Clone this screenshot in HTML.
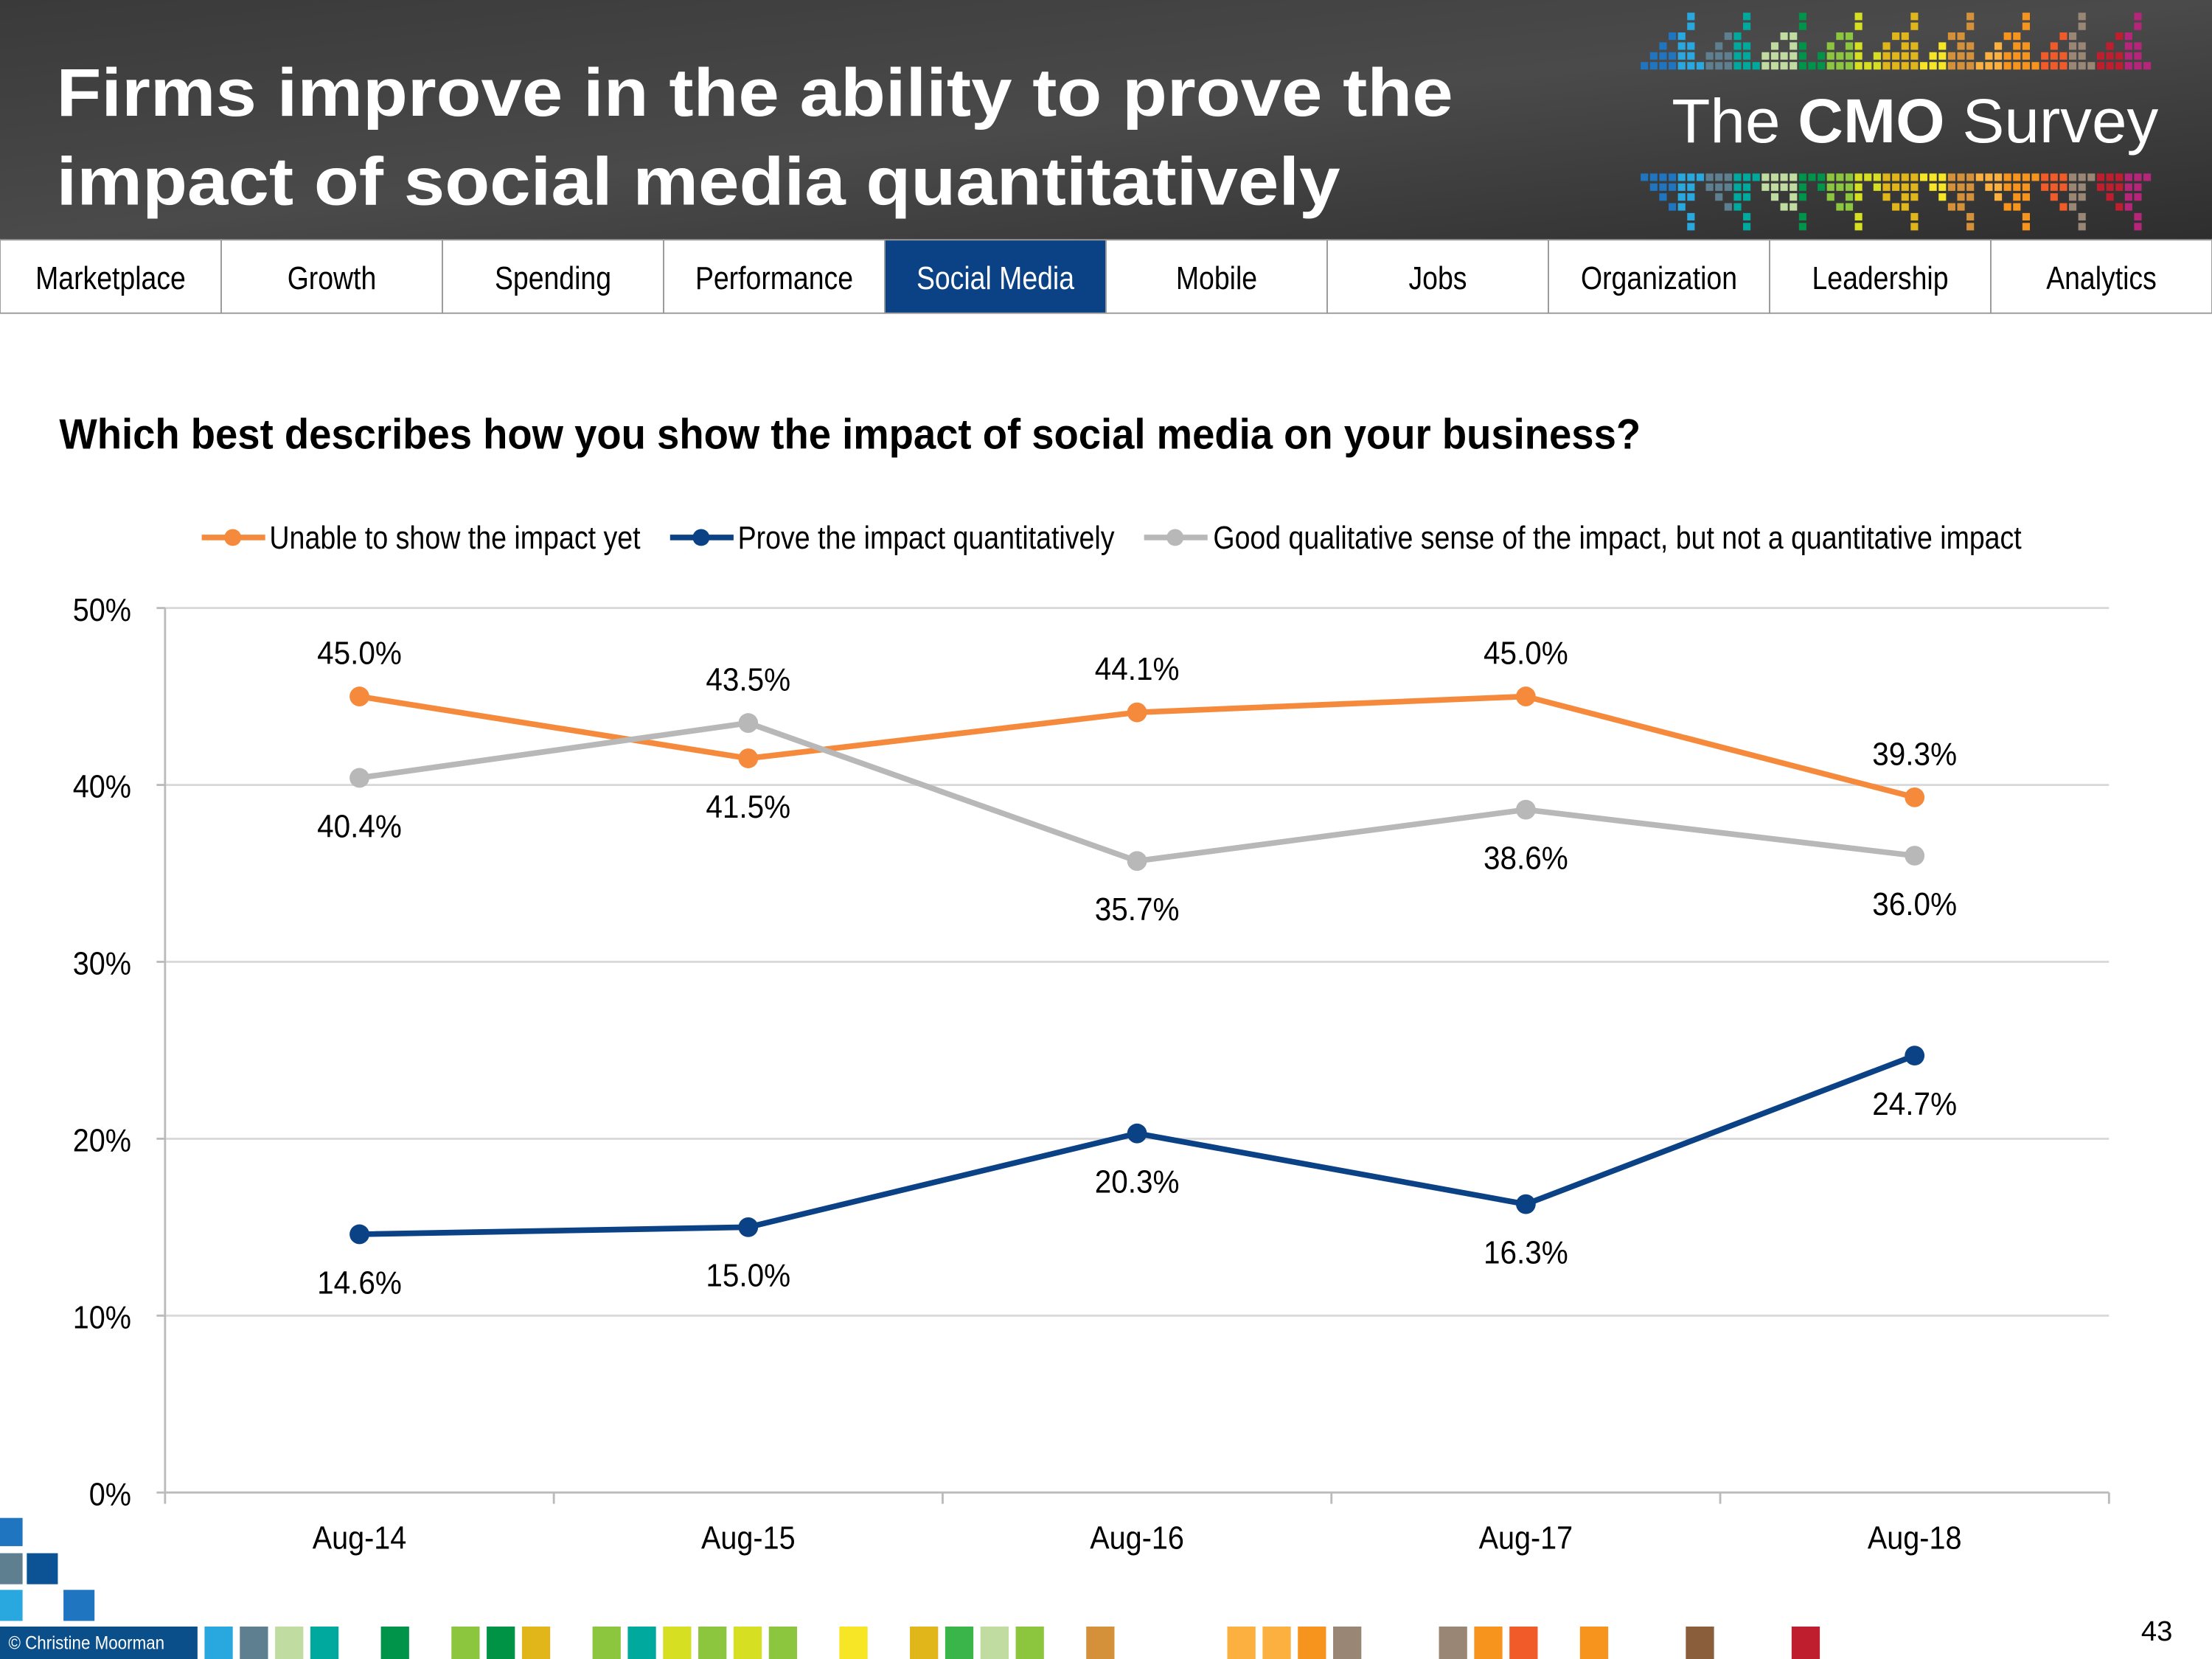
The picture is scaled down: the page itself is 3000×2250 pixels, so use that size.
<!DOCTYPE html>
<html><head><meta charset="utf-8"><style>
html,body{margin:0;padding:0;background:#fff;}
svg{display:block;}
</style></head><body>
<svg id="s" width="3000" height="2250" viewBox="0 0 1568 1176" preserveAspectRatio="none" xmlns="http://www.w3.org/2000/svg" font-family="Liberation Sans, sans-serif">
<defs><linearGradient id="hg" x1="0" y1="0" x2="1" y2="1"><stop offset="0" stop-color="#3a3a3a"/><stop offset="0.5" stop-color="#4a4a4a"/><stop offset="1" stop-color="#2e2e2e"/></linearGradient></defs>
<g>
<rect x="0" y="0" width="1568" height="170" fill="url(#hg)"/>
<text x="40" y="82" fill="#fff" font-size="48" font-weight="bold" textLength="990" lengthAdjust="spacingAndGlyphs">Firms improve in the ability to prove the</text>
<text x="40" y="145" fill="#fff" font-size="48" font-weight="bold" textLength="910" lengthAdjust="spacingAndGlyphs">impact of social media quantitatively</text>
<g id="logo"></g>
<text x="1185" y="101" fill="#fff" font-size="44" font-weight="300" textLength="345" lengthAdjust="spacingAndGlyphs">The <tspan font-weight="bold">CMO</tspan> Survey</text>
</g>
<g id="nav"></g>
<text x="42" y="318" font-size="30" font-weight="bold" fill="#000" textLength="1121" lengthAdjust="spacingAndGlyphs">Which best describes how you show the impact of social media on your business?</text>
<g id="legend"></g>
<g id="chart"></g>
<g id="foot"></g>
<text x="1540" y="1163" text-anchor="end" font-size="20">43</text>
</svg>
<script>
const categories=["Aug-14","Aug-15","Aug-16","Aug-17","Aug-18"];
const unableValues=[45.0,41.5,44.1,45.0,39.3];
const proveValues=[14.6,15.0,20.3,16.3,24.7];
const qualValues=[40.4,43.5,35.7,38.6,36.0];
const yTicks=[0,10,20,30,40,50];
const tabs=["Marketplace","Growth","Spending","Performance","Social Media","Mobile","Jobs","Organization","Leadership","Analytics"];
const NS="http://www.w3.org/2000/svg";
function mk(p,t,a){const e=document.createElementNS(NS,t);for(const k in a)e.setAttribute(k,a[k]);p.appendChild(e);return e;}
function narrow(t,f){const w=t.getComputedTextLength();t.setAttribute('textLength',(w*(f||0.82)).toFixed(1));t.setAttribute('lengthAdjust','spacingAndGlyphs');}
// nav
const nav=document.getElementById('nav');
tabs.forEach((t,i)=>{const w=1568/10,x=i*w,act=t==="Social Media";
const r=mk(nav,'rect',{x:x,y:170,width:w,height:52,fill:act?'#0b4185':'#fff',stroke:'#9a9a9a','stroke-width':1});


const tx=mk(nav,'text',{x:x+w/2,y:205,'text-anchor':'middle','font-size':23,fill:act?'#fff':'#000'});tx.textContent=t;


narrow(tx,0.85);});
// logo pixels
const logo=document.getElementById('logo');
const pal=["#1f75c0","#29a8e0","#5d7f8f","#00a99d","#c0dca0","#00934a","#8cc63f","#d7df23","#e0b61a","#f7e625","#d4913a","#fbb040","#f7941d","#f15a29","#998675","#be1e2d","#b5267b"];
for(let i=0;i<55;i++){const x=1163+i*6.6;const c=pal[Math.min(pal.length-1,Math.floor(i/55*pal.length))];
const h=(i*7)%6;
for(let k=0;k<=h;k++){if((i+k)%3===2&&k>1)continue;
mk(logo,'rect',{x:x,y:44-k*7,width:5.3,height:5.3,fill:c});
mk(logo,'rect',{x:x,y:123+k*7,width:5.3,height:5.3,fill:c});}}
// legend
const lg=document.getElementById('legend');
[[143,"#f58a3d","Unable to show the impact yet",191,263],[475,"#0b4185","Prove the impact quantitatively",523,267],[811,"#b8b8b8","Good qualitative sense of the impact, but not a quantitative impact",860,573]].forEach(d=>{
mk(lg,'line',{x1:d[0],y1:381,x2:d[0]+45,y2:381,stroke:d[1],'stroke-width':4});
mk(lg,'circle',{cx:d[0]+22,cy:381,r:6,fill:d[1]});
const t=mk(lg,'text',{x:d[3],y:389,'font-size':23,textLength:d[4],lengthAdjust:'spacingAndGlyphs'});t.textContent=d[2];

});
// chart
const ch=document.getElementById('chart');
const X0=117,X1=1495,Y0=1058,Y50=431;
const xs=i=>X0+(X1-X0)/categories.length*(i+0.5);
const ys=v=>Y0-(Y0-Y50)*v/50;
yTicks.forEach(v=>{if(v>0){const l=mk(ch,'line',{x1:X0,y1:ys(v),x2:X1,y2:ys(v),stroke:'#d9d9d9','stroke-width':1.5});}
const t=mk(ch,'text',{x:93,y:ys(v)+9,'text-anchor':'end','font-size':23});t.textContent=v+'%';


narrow(t,0.9);
mk(ch,'line',{x1:X0-6,y1:ys(v),x2:X0,y2:ys(v),stroke:'#bbb','stroke-width':1.5});});
mk(ch,'line',{x1:X0,y1:431,x2:X0,y2:Y0,stroke:'#bbb','stroke-width':1.5});
mk(ch,'line',{x1:X0,y1:Y0,x2:X1,y2:Y0,stroke:'#bbb','stroke-width':1.5});
for(let i=0;i<=categories.length;i++){const x=X0+(X1-X0)/categories.length*i;mk(ch,'line',{x1:x,y1:Y0,x2:x,y2:Y0+8,stroke:'#bbb','stroke-width':1.5});}
categories.forEach((c,i)=>{const t=mk(ch,'text',{x:xs(i),y:1098,'text-anchor':'middle','font-size':23});t.textContent=c;


narrow(t,0.9);});
const series=[["unable",unableValues,"#f58a3d"],["qualitative",qualValues,"#b8b8b8"],["prove",proveValues,"#0b4185"]];
series.forEach(s=>{const vals=s[1];
const p=mk(ch,'polyline',{points:vals.map((v,i)=>xs(i)+','+ys(v)).join(' '),fill:'none',stroke:s[2],'stroke-width':4});


vals.forEach((v,i)=>{const c=mk(ch,'circle',{cx:xs(i),cy:ys(v),r:7,fill:s[2]});


let above;
if(s[0]==='prove')above=false;else{const other=s[0]==='unable'?qualValues[i]:unableValues[i];above=v>=other;}
const t=mk(ch,'text',{x:xs(i),y:ys(v)+(above?-23:42),'text-anchor':'middle','font-size':23});
t.textContent=v.toFixed(1)+'%';


narrow(t,0.92);});});
// footer
const ft=document.getElementById('foot');
[[0,1076,16,20,"#1f75c0"],[0,1101,16,22,"#5d7f8f"],[19,1101,22,22,"#0b5394"],[0,1127,16,22,"#29a8e0"],[45,1127,22,22,"#1f75c0"]].forEach(d=>mk(ft,'rect',{x:d[0],y:d[1],width:d[2],height:d[3],fill:d[4]}));
mk(ft,'rect',{x:0,y:1153,width:140,height:23,fill:'#0b4f8a'});
const cp=mk(ft,'text',{x:6,y:1169,'font-size':13,fill:'#fff'});cp.textContent='© Christine Moorman';narrow(cp,0.9);
[[145,"#29a8e0"],[170,"#5d7f8f"],[195,"#c0dca0"],[220,"#00a99d"],[270,"#00934a"],[320,"#8cc63f"],[345,"#009245"],[370,"#e0b61a"],[420,"#8cc63f"],[445,"#00a99d"],[470,"#d7df23"],[495,"#8cc63f"],[520,"#d7df23"],[545,"#8cc63f"],[595,"#f7e625"],[645,"#e0b61a"],[670,"#39b54a"],[695,"#c0dca0"],[720,"#8cc63f"],[770,"#d4913a"],[870,"#fbb040"],[895,"#fbb040"],[920,"#f7941d"],[945,"#998675"],[1020,"#998675"],[1045,"#f7941d"],[1070,"#f15a29"],[1120,"#f7941d"],[1195,"#8a5d3b"],[1270,"#be1e2d"]].forEach(d=>mk(ft,'rect',{x:d[0],y:1153,width:20,height:23,fill:d[1]}));
</script>
</body></html>
